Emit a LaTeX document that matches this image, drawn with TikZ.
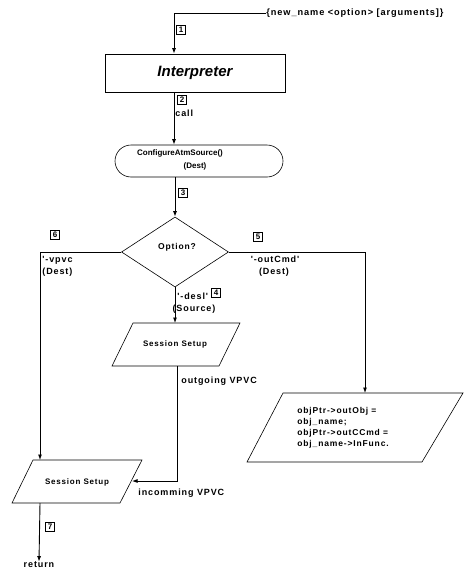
\documentclass[tikz,border=0pt]{standalone}
\usepackage{fontspec}
\setmainfont{Liberation Sans}
\newfontfamily\lsfont{Liberation Sans}[LetterSpace=10]
\usetikzlibrary{arrows.meta,shapes.geometric}
\begin{document}
\begin{tikzpicture}[x=1pt,y=-1pt,
  line width=0.8pt,
  arr/.style={line width=0.9pt, -{Latex[length=5.5pt,width=4pt]}},
  lbl/.style={font=\lsfont\bfseries\fontsize{9}{10}\selectfont, inner sep=0pt},
  slbl/.style={font=\lsfont\bfseries\fontsize{8.5}{11}\selectfont, inner sep=0pt},
  numbox/.style={draw, line width=0.4pt, inner sep=0.8pt, minimum size=9pt, font=\bfseries\fontsize{8}{8}\selectfont},
  pgram/.style={draw, line width=0.6pt}]
\useasboundingbox (0,0) rectangle (465,573);

% helper x positions
\coordinate (mx) at (174,0);

% input
\node[lbl, anchor=west, font=\lsfont\bfseries\fontsize{9.2}{10}\selectfont] (input) at (266,13) {\{new\_name <option> [arguments]\}};
\node[numbox] (n1) at (181,30) {1};

% Interpreter
\node[draw, line width=0.6pt, minimum width=180pt, minimum height=38pt, inner sep=0pt,
      font=\bfseries\itshape\fontsize{15}{16}\selectfont] (interp) at (195,73) {Interpreter};

% ConfigureAtmSource
\node[draw, line width=0.6pt, rounded corners=16pt, minimum width=168pt, minimum height=32pt] (conf) at (199,161) {};
\node[lbl, font=\bfseries\fontsize{8}{9}\selectfont] (conft) at (180,153) {ConfigureAtmSource()};
\node[lbl, font=\bfseries\fontsize{8}{9}\selectfont] (confd) at (195,166) {(Dest)};
\node[numbox] (n2) at (182,100) {2};
\node[lbl, anchor=west] (call) at (175,113) {call};

% Option diamond
\node[draw, line width=0.6pt, diamond, minimum width=107pt, minimum height=70pt, inner sep=0pt] (opt) at (175,252) {};
\node[lbl, font=\lsfont\bfseries\fontsize{8.5}{9}\selectfont] (optt) at (177,247) {Option?};
\node[numbox] (n3) at (183,193) {3};

% labels of branches
\node[numbox] (n6) at (55,235) {6};
\node[lbl, anchor=west] (vpvc) at (42,260) {'-vpvc};
\node[lbl, anchor=west] (vpvcd) at (42,272) {(Dest)};
\node[numbox] (n5) at (258,237) {5};
\node[lbl] (outc) at (275,259) {'-outCmd'};
\node[lbl] (outcd) at (274,272) {(Dest)};
\node[numbox] (n4) at (216,293) {4};
\node[lbl, anchor=west] (desl) at (177,296) {'-desl'};
\node[lbl] (src) at (194,309) {(Source)};

% middle Session Setup
\draw[pgram] (133,323) -- (240,323) -- (219,366) -- (112,366) -- cycle;
\node[lbl, font=\lsfont\bfseries\fontsize{8}{9}\selectfont] (ssM) at (175,344) {Session Setup};
\coordinate (ssMtop) at (175,323);
\coordinate (ssMbot) at (177,366);
\node[lbl, anchor=west] (outg) at (181,381) {outgoing VPVC};

% left Session Setup
\draw[pgram] (33,460) -- (142,460) -- (120,503) -- (12,503) -- cycle;
\node[lbl, font=\lsfont\bfseries\fontsize{8}{9}\selectfont] (ssL) at (77,482) {Session Setup};
\coordinate (ssLtop) at (40,460);
\coordinate (ssLbot) at (40,503);
\coordinate (ssLright) at (132,481);
\node[lbl, anchor=west] (inc) at (138,493) {incomming VPVC};

% right box
\draw[pgram] (283,393) -- (463,393) -- (422,462) -- (247,462) -- cycle;
\node[slbl, anchor=north west, align=left] (ssR) at (297,407) {objPtr->outObj =\\obj\_name;\\objPtr->outCCmd =\\obj\_name->InFunc.};
\coordinate (ssRtop) at (365,393);

% return
\node[numbox] (n7) at (50,527) {7};
\node[lbl] (ret) at (39,565) {return};

% connectors
\draw[arr] (input.west) -| (interp.north -| mx);
\draw[arr] (interp.south -| mx) -- (conf.north -| mx);
\draw[arr] (conf.south -| opt.north) -- (opt.north);
\draw[arr] (opt.south) -- (ssMtop);
\draw[arr] (opt.west) -| (ssLtop);
\draw[arr] (opt.east) -| (ssRtop);
\draw[arr] (ssMbot) |- (ssLright);
\draw[arr] (ssLbot) -- (ret.north);
\end{tikzpicture}
\end{document}
